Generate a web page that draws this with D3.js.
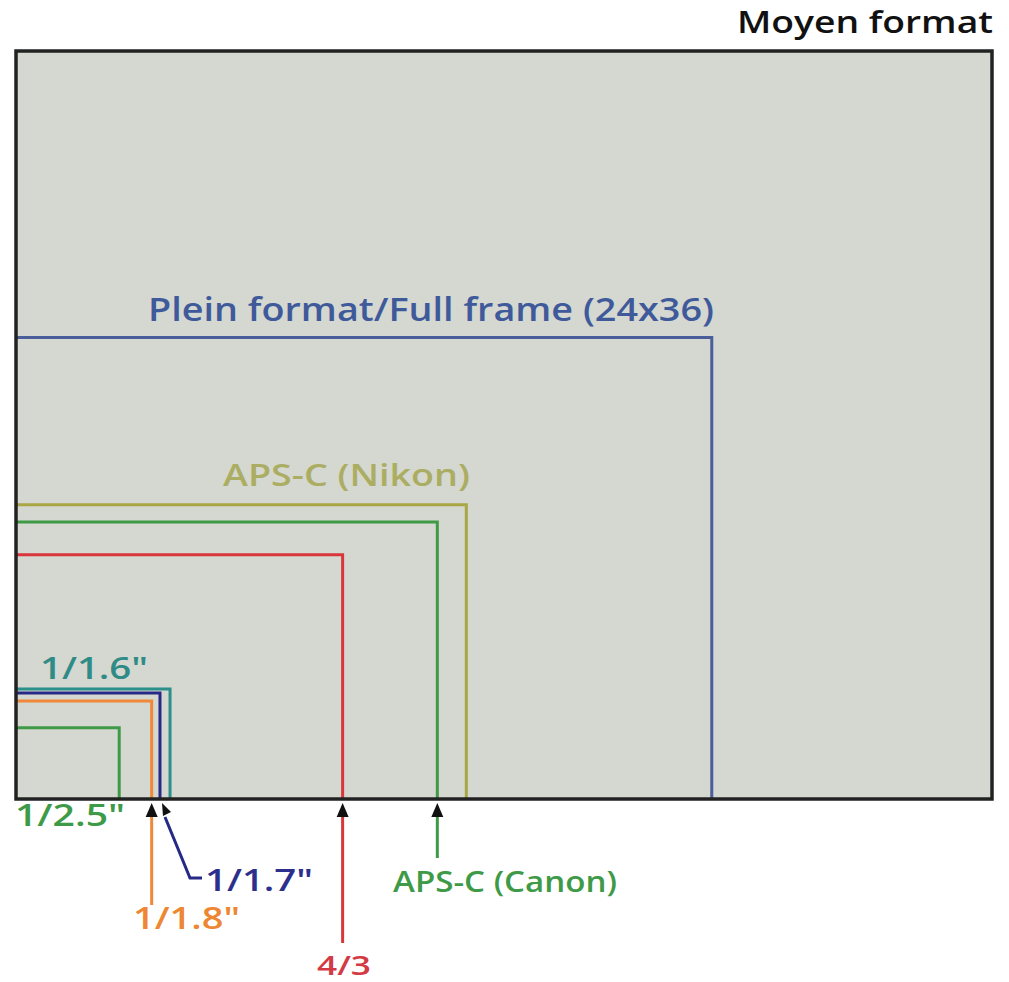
<!DOCTYPE html>
<html><head><meta charset="utf-8">
<script src="https://cdn.jsdelivr.net/npm/d3@7"></script>
<style>body{margin:0;background:#fff}svg{display:block}text{font-family:"Open Sans",sans-serif;font-weight:600}</style>
</head><body><svg id="c" width="1009" height="982"></svg>
<script>
// Sensor formats (width x height, mm)
const names   = ["Moyen format","Plein format/Full frame (24x36)","APS-C (Nikon)","APS-C (Canon)","4/3","1/1.6\"","1/1.7\"","1/1.8\"","1/2.5\""];
const widths  = [50.5, 36.0, 23.3, 21.8, 16.9, 7.97, 7.45, 7.02, 5.34];
const heights = [38.9, 24.0, 15.3, 14.4, 12.7, 5.72, 5.51, 5.10, 3.71];
const colors  = ["#222222","#4a5e9c","#a9a646","#3e9a47","#d9363c","#2a9089","#262a86","#f0883a","#3e9a47"];
const textColors = ["#111111","#3f5a9a","#abae62","#3e9a47","#d33a44","#2e8b86","#2d2f8c","#ee8733","#3e9a47"];

const svg = d3.select("#c");
const x = d3.scaleLinear().domain([0, widths[0]]).range([16, 992]);
const y = d3.scaleLinear().domain([0, heights[0]]).range([799, 51]);

const data = names.map((n,i)=>({name:n,w:widths[i],h:heights[i],c:colors[i],tc:textColors[i]}));

// outer medium-format fill
svg.append("rect").attr("x",x(0)).attr("y",y(heights[0])).attr("width",x(widths[0])-x(0)).attr("height",y(0)-y(heights[0]))
  .attr("fill","#d5d7d1");

// inner sensors: top and right edges
const inner = data.slice(1);
svg.selectAll("path.s").data(inner).join("path").attr("class","s")
  .attr("d",d=>`M${x(0)},${y(d.h)}H${x(d.w)}V${y(0)}`)
  .attr("fill","none").attr("stroke",d=>d.c).attr("stroke-width",3);

svg.append("rect").attr("x",x(0)).attr("y",y(heights[0])).attr("width",x(widths[0])-x(0)).attr("height",y(0)-y(heights[0]))
  .attr("fill","none").attr("stroke","#222").attr("stroke-width",3.5);

// labels (layout positions)
const lab = {
  "Moyen format":{x:993,y:33,a:"end",s:30,L:256},
  "Plein format/Full frame (24x36)":{x:148,y:321,a:"start",s:32,L:566},
  "APS-C (Nikon)":{x:223,y:486,a:"start",s:30,L:247},
  "APS-C (Canon)":{x:393,y:892,a:"start",s:28,L:224},
  "4/3":{x:344,y:975,a:"middle",s:27,L:54},
  "1/1.6\"":{x:40,y:679,a:"start",s:30,L:108},
  "1/1.7\"":{x:205,y:891,a:"start",s:30,L:108},
  "1/1.8\"":{x:133,y:929,a:"start",s:30,L:107},
  "1/2.5\"":{x:15,y:826,a:"start",s:30,L:110}
};
svg.selectAll("text.l").data(data).join("text").attr("class","l")
  .attr("x",d=>lab[d.name].x).attr("y",d=>lab[d.name].y)
  .attr("text-anchor",d=>lab[d.name].a).attr("font-size",d=>lab[d.name].s)
  .attr("fill",d=>d.tc)
  .attr("textLength",d=>lab[d.name].L).attr("lengthAdjust","spacingAndGlyphs")
  .text(d=>d.name);

// pointer arrows from labels below the frame
const arrows = [
  {name:"1/1.8\"", pts:[[0,905]]},
  {name:"1/1.7\"", pts:[[190,878],[202,878]], diag:true},
  {name:"4/3", pts:[[0,943]]},
  {name:"APS-C (Canon)", pts:[[0,858]]}
];
arrows.forEach(a=>{
  const d = data.find(e=>e.name===a.name);
  const ax = x(d.w) + (a.diag?2:0);
  const tipY = y(0)+4;
  let path;
  if(a.diag){ path = `M${ax+3},${tipY+14}L${a.pts[0][0]},${a.pts[0][1]}H${a.pts[1][0]}`; }
  else { path = `M${ax},${tipY+12}V${a.pts[0][1]}`; }
  svg.append("path").attr("d",path).attr("fill","none").attr("stroke",d.c).attr("stroke-width",3);
  if(a.diag){
    svg.append("path").attr("d",`M${ax},${tipY}l9,9l-8,4z`).attr("fill","#111");
  } else {
    svg.append("path").attr("d",`M${ax},${tipY}l-6,14h12z`).attr("fill","#111");
  }
});
</script></body></html>
